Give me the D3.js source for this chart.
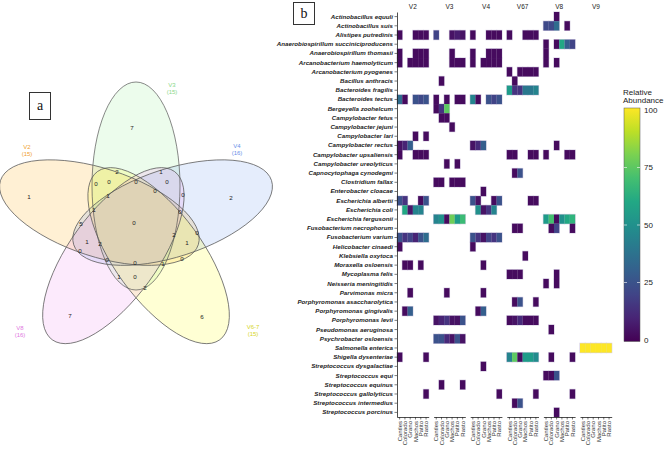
<!DOCTYPE html>
<html><head><meta charset="utf-8">
<script src="https://cdn.jsdelivr.net/npm/d3@7"></script>
<style>body{margin:0;background:#fff}svg{display:block}</style>
</head><body>
<svg id="c" width="669" height="451"></svg>
<script>
const _ = null;
const groups = ["V2","V3","V4","V67","V8","V9"];
const sites = ["Cantles","Colorado","Grano","Machos","Patito","Rasto"];
const species = ["Actinobacillus equuli","Actinobacillus suis","Alistipes putredinis","Anaerobiospirillum succiniciproducens","Anaerobiospirillum thomasii","Arcanobacterium haemolyticum","Arcanobacterium pyogenes","Bacillus anthracis","Bacteroides fragilis","Bacteroides tectus","Bergeyella zoohelcum","Campylobacter fetus","Campylobacter jejuni","Campylobacter lari","Campylobacter rectus","Campylobacter upsaliensis","Campylobacter ureolyticus","Capnocytophaga cynodegmi","Clostridium fallax","Enterobacter cloacae","Escherichia albertii","Escherichia coli","Escherichia fergusonii","Fusobacterium necrophorum","Fusobacterium varium","Helicobacter cinaedi","Klebsiella oxytoca","Moraxella osloensis","Mycoplasma felis","Neisseria meningitidis","Parvimonas micra","Porphyromonas asaccharolytica","Porphyromonas gingivalis","Porphyromonas levii","Pseudomonas aeruginosa","Psychrobacter osloensis","Salmonella enterica","Shigella dysenteriae","Streptococcus dysgalactiae","Streptococcus equi","Streptococcus equinus","Streptococcus gallolyticus","Streptococcus intermedius","Streptococcus porcinus"];

// relative abundance per group: one row per species, one value per site (null = absent)
const v2Values = [
[_,_,_,_,_,_],[_,_,_,_,_,_],[3,_,_,3,3,3],[_,_,_,_,_,_],[3,_,_,3,3,3],[3,_,3,3,3,3],[_,_,_,_,_,_],[_,_,_,_,_,_],[_,_,_,_,_,_],[35,3,_,25,22,25],
[_,_,_,_,_,_],[_,_,_,_,_,_],[_,_,_,_,_,_],[_,_,_,3,_,3],[5,10,30,_,_,_],[3,_,_,3,3,3],[_,_,_,_,_,_],[_,_,_,_,_,_],[_,_,_,_,_,_],[_,_,_,_,_,_],
[25,15,_,_,3,25],[_,60,6,45,45,_],[_,_,_,_,_,_],[_,_,_,_,_,_],[25,15,20,10,25,35],[3,_,_,_,_,_],[_,_,_,_,_,_],[_,3,3,_,3,_],[_,_,_,_,_,_],[_,_,_,_,_,_],
[_,_,3,_,_,_],[_,_,_,_,_,_],[_,3,30,_,_,_],[_,_,_,_,_,_],[_,_,_,_,_,_],[_,_,_,_,_,_],[_,_,_,_,_,_],[3,_,_,_,_,3],[_,_,_,_,_,_],[_,_,_,_,_,_],
[_,_,_,_,_,_],[_,_,_,_,_,3],[_,_,_,_,_,_],[_,_,_,_,_,_]];
const v3Values = [
[_,_,_,_,_,_],[_,_,_,_,_,_],[20,_,_,5,8,5],[_,_,_,_,_,_],[_,_,_,3,_,_],[_,_,_,3,3,3],[_,_,_,_,_,_],[_,3,_,_,_,_],[_,_,_,_,_,_],[3,_,3,_,3,3],
[3,15,75,_,_,_],[_,3,3,_,_,_],[_,_,_,3,_,_],[_,_,_,_,_,_],[_,_,_,_,_,_],[_,_,_,_,_,_],[_,_,3,_,3,_],[_,_,_,_,_,_],[3,3,_,3,3,3],[_,_,_,_,_,_],
[_,_,_,_,_,_],[_,_,_,_,_,_],[45,50,3,78,55,68],[_,_,_,_,_,_],[_,_,_,_,_,_],[_,_,_,_,_,_],[_,_,_,_,_,_],[_,_,_,_,_,_],[_,_,_,_,_,_],[_,_,_,_,_,_],
[_,_,3,_,_,_],[_,_,_,_,_,_],[_,_,_,_,_,_],[5,10,15,5,5,25],[_,_,_,_,_,_],[25,25,12,5,25,5],[_,_,_,_,_,_],[_,_,_,_,_,_],[_,_,_,_,_,_],[_,_,_,_,_,_],
[_,3,_,_,_,3],[_,_,_,_,_,_],[_,_,_,_,_,_],[_,_,_,_,_,_]];
const v4Values = [
[_,_,_,_,_,_],[_,_,_,_,_,_],[3,_,_,3,3,3],[_,_,_,_,_,_],[3,_,_,3,3,3],[3,_,3,3,3,3],[_,_,_,_,_,_],[_,_,_,_,_,_],[_,_,_,_,_,_],[45,3,_,25,20,25],
[_,_,_,_,_,_],[_,_,_,_,_,_],[_,_,_,_,_,_],[_,_,_,_,_,_],[5,12,30,_,_,_],[_,_,_,_,_,_],[_,_,_,_,_,_],[_,_,_,_,_,_],[_,_,_,_,_,_],[_,_,3,_,_,_],
[25,5,_,_,3,25],[_,50,5,15,45,_],[_,_,_,_,_,_],[_,_,_,_,_,_],[25,15,5,20,15,25],[3,_,_,_,_,_],[_,_,_,_,_,_],[_,_,3,_,_,_],[_,_,_,_,_,_],[_,_,_,_,_,_],
[_,_,3,_,_,_],[_,_,_,_,_,_],[_,3,30,_,_,_],[_,_,_,_,_,_],[_,_,_,_,_,_],[_,_,_,_,_,_],[_,_,_,_,_,_],[_,_,_,_,_,_],[_,_,3,_,_,_],[_,_,_,_,_,_],
[_,_,_,_,_,_],[_,_,_,_,_,3],[_,_,_,_,_,_],[_,_,_,_,_,_]];
const v67Values = [
[_,_,_,_,_,_],[_,_,_,_,_,_],[3,_,_,3,3,3],[_,_,_,_,_,_],[_,_,_,_,_,_],[_,_,_,_,_,_],[3,_,3,3,3,3],[_,3,_,_,_,_],[55,15,15,40,40,45],[_,_,_,_,_,_],
[_,_,_,_,_,_],[_,_,_,_,_,_],[_,_,_,_,_,_],[_,_,_,_,_,_],[_,_,_,_,_,_],[3,3,_,_,3,3],[_,_,_,_,_,_],[_,3,25,_,_,_],[_,_,_,_,_,_],[_,_,_,_,_,_],
[_,_,_,_,3,3],[_,_,_,_,_,_],[_,_,_,_,_,_],[_,3,3,_,_,_],[_,_,_,_,_,_],[_,_,_,_,_,_],[_,_,_,3,_,_],[_,_,_,_,_,_],[3,3,3,_,_,_],[_,_,_,_,_,_],
[_,_,_,_,_,_],[_,3,25,_,_,3],[_,_,_,_,_,_],[3,5,12,3,3,3],[_,_,_,_,_,_],[_,_,_,_,_,_],[_,_,_,_,_,_],[45,75,3,55,55,48],[_,_,_,_,_,_],[_,_,_,_,_,_],
[_,_,_,_,_,_],[_,_,_,_,_,3],[_,3,25,_,_,_],[_,_,_,_,_,_]];
const v8Values = [
[_,_,3,_,_,_],[22,22,35,_,3,_],[_,_,_,_,_,_],[3,_,3,60,30,20],[3,_,_,_,_,_],[3,_,3,_,_,_],[_,_,_,_,_,_],[_,_,_,_,_,_],[_,_,_,_,_,_],[_,_,_,_,_,_],
[_,_,_,_,_,_],[_,_,_,_,_,_],[_,_,_,_,_,_],[_,_,_,_,_,_],[_,_,3,_,_,_],[3,_,_,_,3,3],[_,_,_,_,_,_],[_,_,_,_,_,_],[_,_,_,_,_,_],[_,_,_,_,_,_],
[_,_,_,_,_,_],[_,_,_,_,_,_],[55,70,3,50,60,65],[_,3,20,_,_,3],[_,_,_,_,_,_],[_,_,_,_,_,_],[_,_,_,_,_,_],[_,_,_,_,_,_],[_,_,3,_,_,_],[3,_,3,_,_,_],
[_,_,_,_,_,_],[_,_,_,_,_,_],[_,_,_,_,_,_],[_,_,_,_,_,_],[_,3,_,_,_,_],[_,_,_,_,_,_],[_,_,_,_,_,_],[_,3,_,_,_,3],[_,_,_,_,_,_],[3,3,25,_,_,_],
[_,_,_,_,_,_],[_,_,_,_,_,3],[_,_,_,_,_,_],[_,_,3,_,_,_]];
const v9Values = species.map(s => s === "Salmonella enterica" ? [100,100,100,100,100,100] : [_,_,_,_,_,_]);
const legendTicks = [0,25,50,75,100];

// Venn
const vennSets = ["V2","V3","V4","V6-7","V8"];
const vennSizes = [15,15,16,15,16];
const vennRegionCounts = [7,1,2,7,6, 2,1,0,0,0,0,0,0,1,1,0,5,0,2,0,1,2,1,0,0,0,1,0,1,0,2];
</script>
<script>
// ---------- layout (positions / styles) ----------
const vennRegionPos = [[132,128],[29,197],[231,198],[70,316],[202,317],
 [117,172],[161,172],[96,184],[109,182],[136,182],[167,182],[155,191],[183,195],[108,196],[94,210],[180,212],[81,224],[134,223],[174,235],[197,233],[87,242],[100,244],[187,243],[80,251],[107,260],[135,263],[163,264],[182,259],[119,277],[135,277],[145,288]];
const vennRot = [72,0,-72,-144,144];
const vennFill = ["#ffa500","#90ee90","#6495ed","#ffff00","#ee82ee"];
const vennLabelCol = ["#f0a030","#8ad88a","#6a8fe8","#d6d61e","#e078e0"];
const vennLabelPos = [[27,147],[172,85],[237,146],[253,327],[20,328]];

const svg = d3.select("#c");
const FONT = "Liberation Sans, Arial, sans-serif";

// ---- Venn ellipses ----
const O = [136,224.5], dOff = 38.5, ea = 104, eb = 44, baseAxis = 90, baseOff = 90;
const ell = vennSets.map((s,i) => {
  const r = vennRot[i];
  const t = (baseOff + r) * Math.PI/180;
  return {cx: O[0] + dOff*Math.cos(t), cy: O[1] - dOff*Math.sin(t), ang: -(baseAxis + r), fill: vennFill[i]};
});
const vg = svg.append("g");
vg.selectAll("ellipse.f").data(ell).join("ellipse").attr("class","f")
  .attr("cx",d=>d.cx).attr("cy",d=>d.cy).attr("rx",ea).attr("ry",eb)
  .attr("transform",d=>`rotate(${d.ang},${d.cx},${d.cy})`)
  .attr("fill",d=>d.fill).attr("fill-opacity",0.17).attr("stroke","none");
vg.selectAll("ellipse.s").data(ell).join("ellipse").attr("class","s")
  .attr("cx",d=>d.cx).attr("cy",d=>d.cy).attr("rx",ea).attr("ry",eb)
  .attr("transform",d=>`rotate(${d.ang},${d.cx},${d.cy})`)
  .attr("fill","none").attr("stroke","#555").attr("stroke-width",0.7);
vg.selectAll("text.n").data(vennRegionCounts).join("text").attr("class","n")
  .attr("x",(d,i)=>vennRegionPos[i][0]).attr("y",(d,i)=>vennRegionPos[i][1])
  .attr("dy","0.35em").attr("text-anchor","middle")
  .attr("font-family",FONT).attr("font-size",6.2).attr("fill","#222").text(d=>d);
vennSets.forEach((s,i)=>{
  const t = vg.append("text").attr("x",vennLabelPos[i][0]).attr("y",vennLabelPos[i][1])
    .attr("text-anchor","middle").attr("font-family",FONT).attr("font-size",6).attr("fill",vennLabelCol[i]);
  t.append("tspan").attr("x",vennLabelPos[i][0]).attr("dy","0.35em").text(s);
  t.append("tspan").attr("x",vennLabelPos[i][0]).attr("dy","1.15em").text(`(${vennSizes[i]})`);
});

// panel letters
function letterBox(x,y,w,h,txt){
  svg.append("rect").attr("x",x).attr("y",y).attr("width",w).attr("height",h)
    .attr("fill","#fff").attr("stroke","#333").attr("stroke-width",1);
  svg.append("text").attr("x",x+w/2).attr("y",y+h/2).attr("dy","0.32em").attr("text-anchor","middle")
    .attr("font-family","Liberation Serif, serif").attr("font-size",14).attr("fill","#111").text(txt);
}
letterBox(29.5,92.5,21,27,"a");
letterBox(293.5,2.5,21,22,"b");

// ---- Heatmap ----
const hm = {left:397, right:611.7, top:12, bottom:417};
const y = d3.scaleBand().domain(species).range([hm.top, hm.bottom]);
const gx = d3.scaleBand().domain(groups).range([hm.left, hm.right]).paddingInner(0.134);
const sx = d3.scaleBand().domain(sites).range([0, gx.bandwidth()]);
const color = d3.scaleSequential(d3.interpolateViridis).domain([0,100]);
const valueSets = {V2:v2Values, V3:v3Values, V4:v4Values, V67:v67Values, V8:v8Values, V9:v9Values};
const cells = [];
groups.forEach(g => valueSets[g].forEach((row,i) => row.forEach((v,j) => {
  if (v !== null) cells.push({g, sp: species[i], site: sites[j], v});
})));
const cg = svg.append("g");
cg.selectAll("rect.h").data(cells).join("rect").attr("class","h")
  .attr("x",d=>gx(d.g)+sx(d.site)).attr("y",d=>y(d.sp))
  .attr("width",sx.bandwidth()).attr("height",y.bandwidth())
  .attr("fill","none").attr("stroke","#d6cfe3").attr("stroke-width",1.2);
cg.selectAll("rect.c").data(cells).join("rect").attr("class","c")
  .attr("x",d=>gx(d.g)+sx(d.site)).attr("y",d=>y(d.sp))
  .attr("width",sx.bandwidth()+0.05).attr("height",y.bandwidth()+0.05)
  .attr("fill",d=>color(d.v));

// y axis
const ya = svg.append("g").attr("transform",`translate(${hm.left},0)`)
  .call(d3.axisLeft(y).tickSize(2.5).tickSizeOuter(0).tickPadding(1.5));
ya.select(".domain").attr("stroke","#222").attr("stroke-width",0.8);
ya.selectAll(".tick line").attr("stroke","#222").attr("stroke-width",0.6);
ya.selectAll("text").attr("font-family",FONT).attr("font-size",6.2).attr("font-weight","bold")
  .attr("font-style","italic").attr("fill","#222");

// bottom axes per panel + strip labels
groups.forEach(g => {
  const ax = svg.append("g").attr("transform",`translate(${gx(g)},${hm.bottom})`)
    .call(d3.axisBottom(sx).tickSize(2.5).tickSizeOuter(0));
  ax.select(".domain").attr("stroke","#222").attr("stroke-width",0.8);
  ax.selectAll(".tick line").attr("stroke","#222").attr("stroke-width",0.6);
  ax.selectAll("text").attr("transform","rotate(-90)").attr("text-anchor","end")
    .attr("x",-4).attr("y",0).attr("dy","0.35em")
    .attr("font-family",FONT).attr("font-size",6).attr("fill","#333");
  svg.append("text").attr("x",gx(g)+gx.bandwidth()/2).attr("y",7).attr("dy","0.35em")
    .attr("text-anchor","middle").attr("font-family",FONT).attr("font-size",6.5).attr("fill","#222").text(g);
});

// legend
const ly = d3.scaleLinear().domain([0,100]).range([340,110]);
const defs = svg.append("defs");
const grad = defs.append("linearGradient").attr("id","vg").attr("x1",0).attr("y1",1).attr("x2",0).attr("y2",0);
d3.range(0,1.0001,0.1).forEach(t => grad.append("stop").attr("offset",t).attr("stop-color",color(t*100)));
svg.append("rect").attr("x",624).attr("y",ly(100)-2).attr("width",16).attr("height",ly(0)-ly(100)+3.5)
  .attr("fill","url(#vg)").attr("stroke","#555").attr("stroke-width",0.5);
svg.append("g").selectAll("g").data(legendTicks.filter(t=>t>0&&t<100)).join("g").each(function(t){
  d3.select(this).append("line").attr("x1",624).attr("x2",627).attr("y1",ly(t)).attr("y2",ly(t)).attr("stroke","#fff").attr("stroke-width",0.6);
  d3.select(this).append("line").attr("x1",637).attr("x2",640).attr("y1",ly(t)).attr("y2",ly(t)).attr("stroke","#fff").attr("stroke-width",0.6);
});
svg.append("g").selectAll("text").data(legendTicks).join("text")
  .attr("x",644).attr("y",d=>ly(d)).attr("dy","0.35em").attr("font-family",FONT).attr("font-size",8)
  .attr("fill","#222").text(d=>d);
const lt = svg.append("text").attr("font-family",FONT).attr("font-size",8).attr("fill","#222");
lt.append("tspan").attr("x",623).attr("y",95).text("Relative");
lt.append("tspan").attr("x",623).attr("y",103).text("Abundance");
</script>
</body></html>
